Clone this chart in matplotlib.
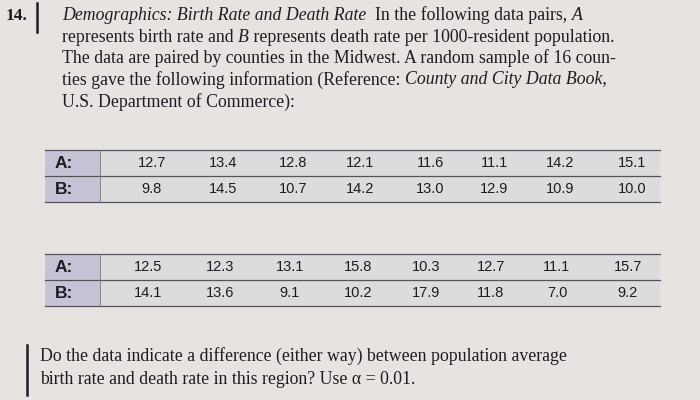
import matplotlib.pyplot as plt
from matplotlib.patches import Rectangle

a_top = [12.7, 13.4, 12.8, 12.1, 11.6, 11.1, 14.2, 15.1]
b_top = [9.8, 14.5, 10.7, 14.2, 13.0, 12.9, 10.9, 10.0]
a_bot = [12.5, 12.3, 13.1, 15.8, 10.3, 12.7, 11.1, 15.7]
b_bot = [14.1, 13.6, 9.1, 10.2, 17.9, 11.8, 7.0, 9.2]

fig = plt.figure(figsize=(7, 4), dpi=100)
fig.patch.set_facecolor('#e6e3e1')
ax = fig.add_axes([0, 0, 1, 1])
ax.set_xlim(0, 700)
ax.set_ylim(400, 0)
ax.axis('off')

serif = 'Liberation Serif'
ink = '#1e1c22'

# problem number and margin rule
ax.text(6, 16, '14.', fontsize=12.5, family=serif, color=ink, va='center', weight='bold')
ax.plot([37, 37], [3, 32], color=ink, lw=1.8)
ax.plot([27, 27], [345, 395], color=ink, lw=1.8)

lines = [
    (15, [('Demographics: Birth Rate and Death Rate', 'italic'),
          ('  In the following data pairs, ', 'normal'), ('A', 'italic')]),
    (37, [('represents birth rate and ', 'normal'), ('B', 'italic'),
          (' represents death rate per 1000-resident population.', 'normal')]),
    (58, [('The data are paired by counties in the Midwest. A random sample of 16 coun-', 'normal')]),
    (80, [('ties gave the following information (Reference: ', 'normal'),
          ('County and City Data Book,', 'italic')]),
    (102, [('U.S. Department of Commerce):', 'normal')]),
]
for y, parts in lines:
    x = 62
    for txt, style in parts:
        t = ax.text(x, y, txt, fontsize=12.8, family=serif, style=style, color=ink, va='center')
        fig.canvas.draw()
        x += t.get_window_extent().width * 700 / fig.bbox.width


def table(top, a_vals, b_vals, xs):
    h = 26
    ax.add_patch(Rectangle((45, top), 615, 2 * h, facecolor='#dedbdd', edgecolor='none'))
    ax.add_patch(Rectangle((45, top), 55, 2 * h, facecolor='#c6c3d6', edgecolor='none'))
    for y in (top, top + h, top + 2 * h):
        ax.plot([45, 660], [y, y], color='#55525a', lw=0.9)
    ax.plot([100, 100], [top, top + 2 * h], color='#77747c', lw=0.6)
    for i, (lab, vals) in enumerate((('A:', a_vals), ('B:', b_vals))):
        yc = top + h * (i + 0.5)
        ax.text(55, yc, lab, fontsize=12.5, family='Liberation Sans', weight='bold', color=ink, va='center')
        for x, v in zip(xs, vals):
            ax.text(x, yc, f'{v:.1f}', fontsize=10.5, family='Liberation Sans', color=ink,
                    va='center', ha='center')

table(150, a_top, b_top, [152, 223, 293, 360, 430, 494, 560, 632])
table(254, a_bot, b_bot, [148, 220, 290, 358, 426, 491, 557, 628])

ax.text(40, 356, 'Do the data indicate a difference (either way) between population average',
        fontsize=12.8, family=serif, color=ink, va='center')
ax.text(40, 379, 'birth rate and death rate in this region? Use \u03b1 = 0.01.',
        fontsize=12.8, family=serif, color=ink, va='center')

fig.savefig('out.png', dpi=100, facecolor=fig.get_facecolor())
